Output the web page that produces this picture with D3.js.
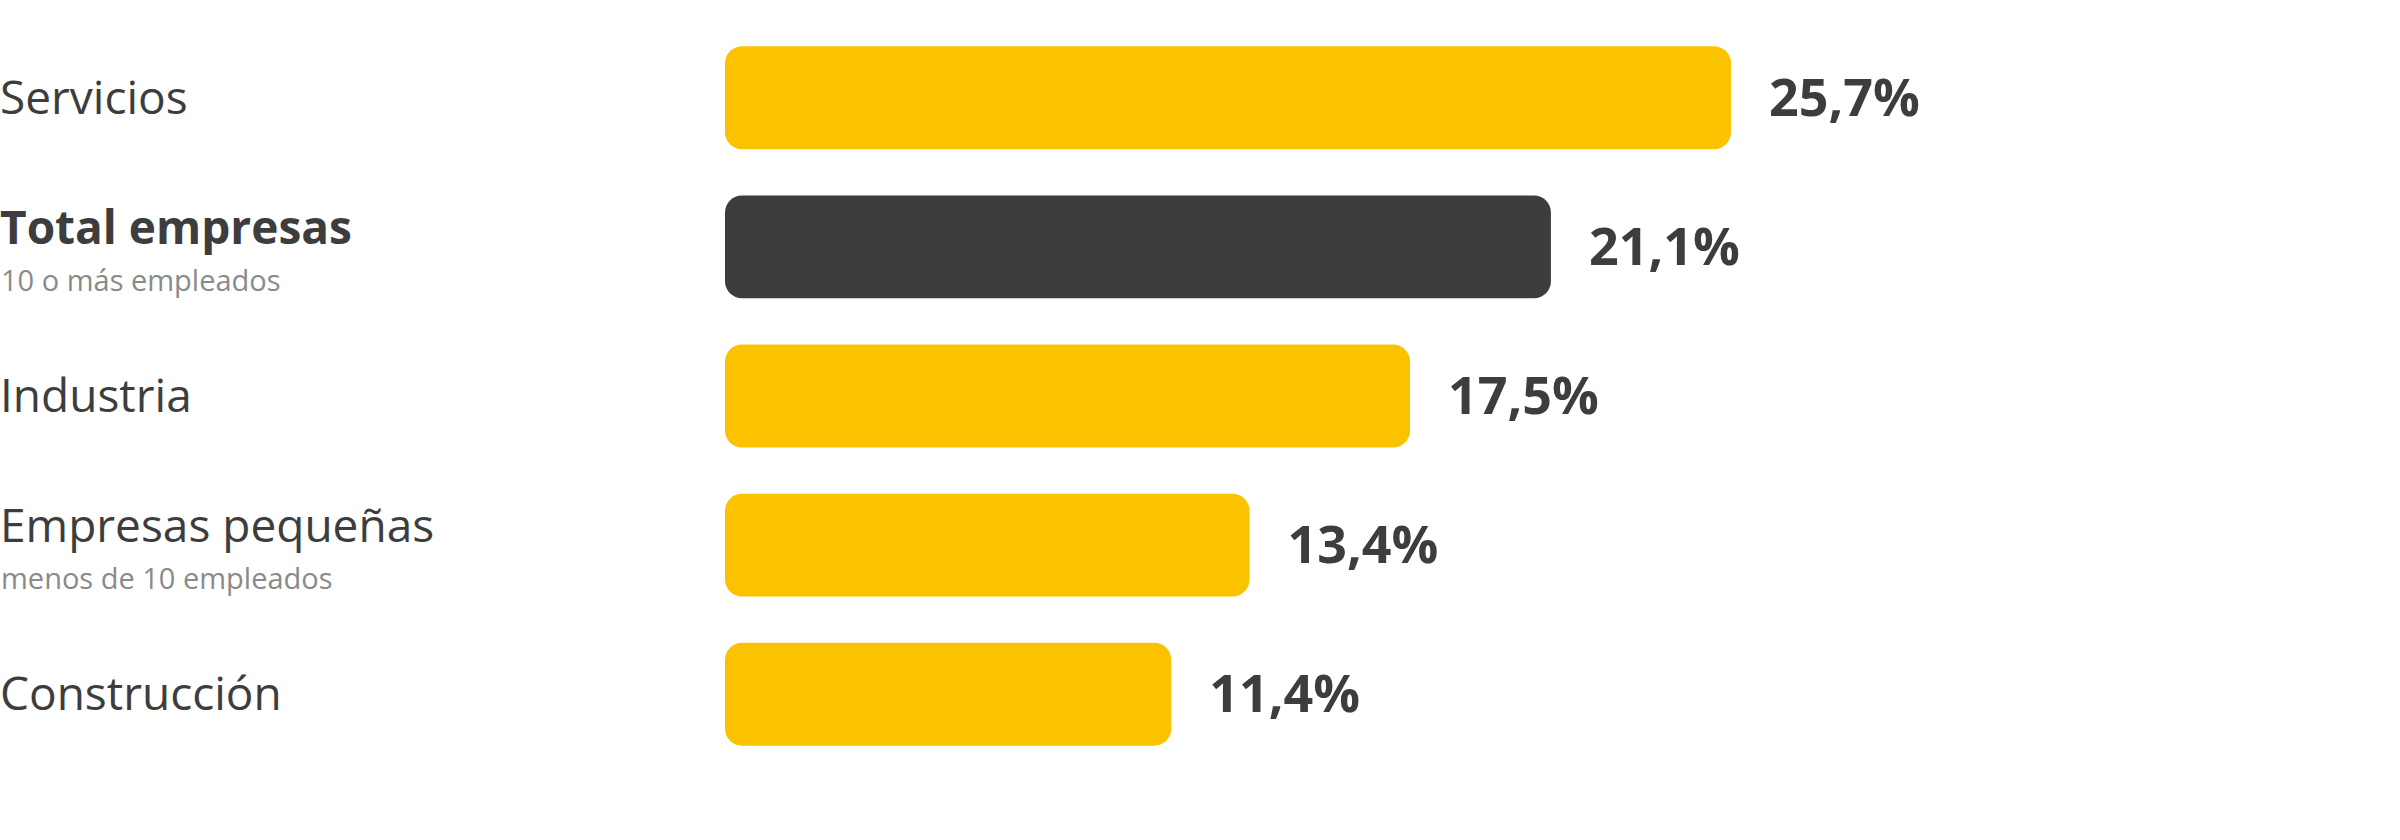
<!DOCTYPE html>
<html lang="es">
<head>
<meta charset="UTF-8">
<script src="https://d3js.org/d3.v7.min.js"></script>
<style>
  body { margin: 0; background: #fff; }
  text { font-family: "Open Sans", sans-serif; fill: #3d3d3d; }
</style>
</head>
<body>
<div id="chart"></div>
<script>
// data
var categories = ["Servicios", "Total empresas", "Industria", "Empresas pequeñas", "Construcción"];
var subLabels = ["", "10 o más empleados", "", "menos de 10 empleados", ""];
var values = [25.7, 21.1, 17.5, 13.4, 11.4];
var highlight = [false, true, false, false, false];

var width = 2400, height = 840;
var svg = d3.select("#chart").append("svg")
    .attr("width", width).attr("height", height);

var x = d3.scaleLinear().domain([0, 25.7]).range([725, 1731]);
var y = d3.scaleBand().domain(categories).range([21, 771]).paddingInner(0.31).paddingOuter(0.17);

var rows = svg.selectAll("g.row")
    .data(categories.map(function(c, i) { return {name: c, sub: subLabels[i], v: values[i], hi: highlight[i]}; }))
    .enter().append("g").attr("class", "row")
    .attr("transform", function(d) { return "translate(0," + y(d.name) + ")"; });

rows.append("rect")
    .attr("x", x(0))
    .attr("width", function(d) { return x(d.v) - x(0); })
    .attr("height", y.bandwidth())
    .attr("rx", 17)
    .attr("fill", function(d) { return d.hi ? "#3d3d3d" : "#fbc200"; });

rows.append("text")
    .attr("x", function(d) { return x(d.v) + 38; })
    .attr("y", y.bandwidth() / 2 + 18)
    .attr("font-size", 52)
    .attr("font-weight", "bold")
    .text(function(d) { return d3.format(".1f")(d.v).replace(".", ",") + "%"; });

rows.append("text")
    .attr("x", 0)
    .attr("y", function(d) { return d.sub ? y.bandwidth() / 2 - 3 : y.bandwidth() / 2 + 16; })
    .attr("font-size", 46)
    .attr("font-weight", function(d) { return d.hi ? "bold" : "normal"; })
    .text(function(d) { return d.name; });

rows.filter(function(d) { return d.sub; }).append("text")
    .attr("x", 1)
    .attr("y", y.bandwidth() / 2 + 44)
    .attr("font-size", 29)
    .style("fill", "#8a8a8a")
    .text(function(d) { return d.sub; });
</script>
</body>
</html>
